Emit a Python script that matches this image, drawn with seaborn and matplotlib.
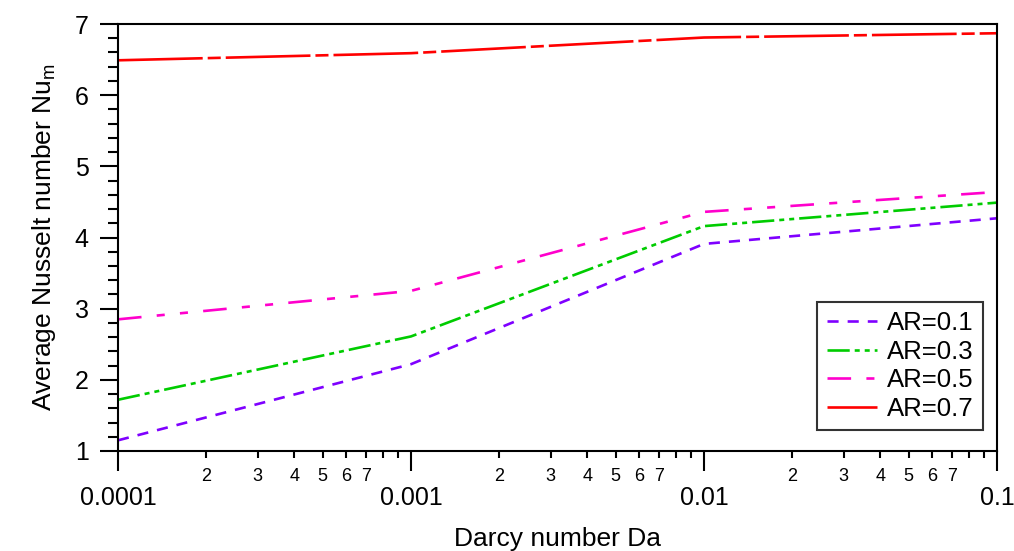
import numpy as np
import pandas as pd
import matplotlib
matplotlib.use("Agg")
import matplotlib.pyplot as plt
from matplotlib.ticker import FixedLocator, FuncFormatter, LogLocator, MultipleLocator
import seaborn as sns

# ---- data ----
darcy = [1e-4, 1e-3, 1e-2, 1e-1]
nu_ar01 = [1.15, 2.22, 3.91, 4.27]
nu_ar03 = [1.72, 2.61, 4.16, 4.49]
nu_ar05 = [2.85, 3.25, 4.36, 4.64]
nu_ar07 = [6.49, 6.59, 6.81, 6.87]
series_labels = ["AR=0.1", "AR=0.3", "AR=0.5", "AR=0.7"]
major_tick_labels = ["0.0001", "0.001", "0.01", "0.1"]
y_ticks = [1, 2, 3, 4, 5, 6, 7]

colors = {"AR=0.1": "#7F00FF", "AR=0.3": "#00CC00", "AR=0.5": "#FF00CC", "AR=0.7": "#FF0000"}
dash_styles = {
    "AR=0.1": (8, 6.5),
    "AR=0.3": (16, 3.6, 3.6, 3.6, 3.6, 3.6),
    "AR=0.5": (17, 11, 5.8, 11, 5.8, 11),
    "AR=0.7": (61, 3.6, 9.4, 3.6),
}

rows = []
for lab, vals in zip(series_labels, [nu_ar01, nu_ar03, nu_ar05, nu_ar07]):
    for d, v in zip(darcy, vals):
        rows.append({"Da": d, "Nu": v, "AR": lab})
df = pd.DataFrame(rows)

sns.set_style("ticks")
plt.rcParams["font.family"] = ["Liberation Sans", "DejaVu Sans"]
plt.rcParams["mathtext.fontset"] = "custom"
plt.rcParams["mathtext.rm"] = "Liberation Sans"
plt.rcParams["lines.scale_dashes"] = False
for k in ["text.color", "axes.labelcolor", "xtick.color", "ytick.color", "axes.edgecolor"]:
    plt.rcParams[k] = "black"

fig = plt.figure(figsize=(10.14, 5.51), dpi=100)
ax = fig.add_axes([118 / 1014, 1 - 451 / 551, (997 - 118) / 1014, (451 - 24) / 551])
ax.set_xscale("log")

sns.lineplot(data=df, x="Da", y="Nu", hue="AR", style="AR", hue_order=series_labels,
             style_order=series_labels, palette=colors, dashes=dash_styles,
             linewidth=1.9, legend=False, ax=ax)

ax.set_xlim(1e-4, 1e-1)
ax.set_ylim(1, 7)

# x axis ticks
ax.xaxis.set_major_locator(FixedLocator(darcy))
ax.xaxis.set_major_formatter(FuncFormatter(lambda x, pos: major_tick_labels[pos] if pos is not None and pos < len(major_tick_labels) else ""))
ax.xaxis.set_minor_locator(LogLocator(base=10, subs=np.arange(2, 10), numticks=20))

def minor_fmt(x, pos):
    m = int(round(x / 10 ** np.floor(np.log10(x) + 1e-9)))
    return str(m) if 2 <= m <= 7 else ""

ax.xaxis.set_minor_formatter(FuncFormatter(minor_fmt))
ax.tick_params(axis="x", which="major", direction="out", length=14.4, width=1.5, pad=11, labelsize=18)
ax.tick_params(axis="x", which="minor", direction="out", length=5, width=1.5, pad=7.5, labelsize=13)

# y axis ticks
ax.yaxis.set_major_locator(FixedLocator(y_ticks))
ax.yaxis.set_minor_locator(MultipleLocator(0.2))
ax.tick_params(axis="y", which="major", direction="out", length=13, width=1.5, pad=8, labelsize=18)
ax.tick_params(axis="y", which="minor", direction="out", length=7, width=1.5)

for s in ax.spines.values():
    s.set_visible(True)
    s.set_linewidth(1.5)
    s.set_color("black")
ax.grid(False)

ax.set_xlabel("Darcy number Da", fontsize=19, labelpad=12)
ax.set_ylabel("Average Nusselt number Nu$_\\mathregular{m}$", fontsize=19, labelpad=12)

handles = ax.get_lines()[:4]
leg = ax.legend(handles, series_labels, loc="lower right", bbox_to_anchor=(0.984, 0.049),
                borderaxespad=0, fontsize=18.5, frameon=True, fancybox=False,
                handlelength=1.95, handletextpad=0.4, labelspacing=0.18,
                borderpad=0.36, edgecolor="black")
leg.get_frame().set_linewidth(1.5)

fig.savefig("out.png", dpi=100)
